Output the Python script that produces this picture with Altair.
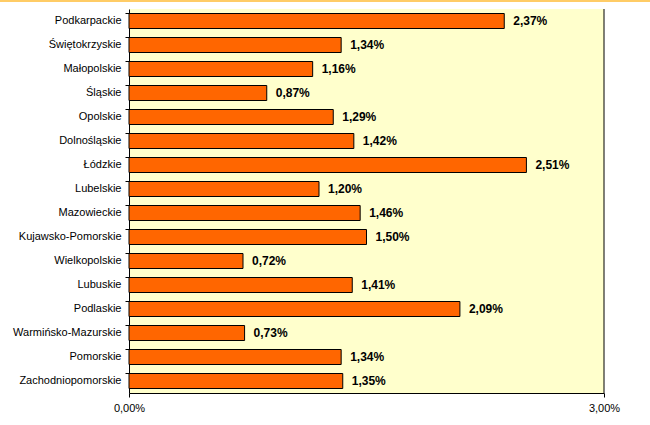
import altair as alt
import pandas as pd

regions = ["Podkarpackie", "Świętokrzyskie", "Małopolskie", "Śląskie", "Opolskie",
           "Dolnośląskie", "Łódzkie", "Lubelskie", "Mazowieckie", "Kujawsko-Pomorskie",
           "Wielkopolskie", "Lubuskie", "Podlaskie", "Warmińsko-Mazurskie", "Pomorskie",
           "Zachodniopomorskie"]
values = [2.37, 1.34, 1.16, 0.87, 1.29, 1.42, 2.51, 1.20, 1.46, 1.50, 0.72, 1.41, 2.09, 0.73, 1.34, 1.35]
x_ticks = [0, 3]

df = pd.DataFrame({"region": regions, "value": values})

FONT = "Liberation Sans"

y_enc = alt.Y("region:N", sort=regions, title=None,
              scale=alt.Scale(paddingInner=0.375, paddingOuter=0.1875),
              axis=alt.Axis(bandPosition=0, tickSize=4, tickColor="black", domainColor="black",
                            labelPadding=4, labelFont=FONT, labelFontSize=11, labelColor="black",
                            grid=False))
x_scale = alt.Scale(domain=[0, 3], nice=False)
x_enc = alt.X("value:Q", scale=x_scale, title=None,
              axis=alt.Axis(values=x_ticks, tickSize=4, tickColor="black", domainColor="black",
                            labelFont=FONT, labelFontSize=11, labelColor="black", labelPadding=5,
                            grid=False, labelFlush=False,
                            labelExpr="replace(format(datum.value, '.2f'), '.', ',') + '%'"))

base = alt.Chart(df)

bars = base.mark_bar(color="#FF6600", stroke="black", strokeWidth=1).encode(x=x_enc, y=y_enc)

labels = base.transform_calculate(
    lab="replace(format(datum.value, '.2f'), '.', ',') + '%'"
).mark_text(align="left", baseline="middle", dx=9, font=FONT, fontSize=12,
            fontWeight="bold", color="black").encode(
    x=alt.X("value:Q", scale=x_scale), y=alt.Y("region:N", sort=regions), text="lab:N")

right_edge = alt.Chart(pd.DataFrame({"v": [3]})).mark_rule(color="black", strokeWidth=1).encode(
    x=alt.X("v:Q", scale=x_scale))

top_line = alt.Chart(pd.DataFrame({"v": [0]})).mark_rule(color="#FFCC66", strokeWidth=2).encode(
    x=alt.value(-129), x2=alt.value(521), y=alt.value(-8))

chart = alt.layer(bars, labels, right_edge, top_line).properties(
    width=475, height=384,
    padding={"left": 129, "top": 9, "right": 46, "bottom": 32},
    autosize=alt.AutoSizeParams(type="none"),
    background="white",
).configure_view(fill="#FFFFCC", stroke=None)

chart.save("out.html", embed_options={"renderer": "svg", "actions": False})
